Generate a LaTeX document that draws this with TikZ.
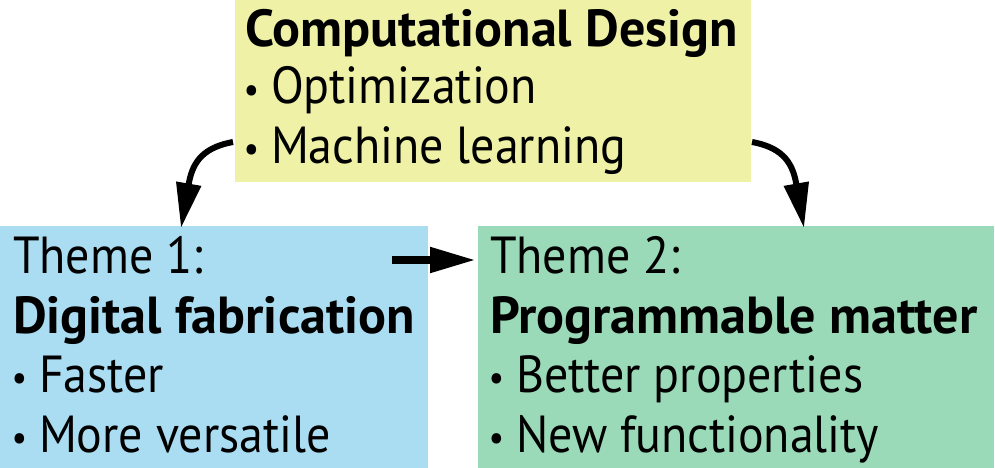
\documentclass[tikz,border=0pt]{standalone}
\usepackage{fontspec}
\setmainfont{PT Sans}
\newfontfamily\regfont[FakeStretch=0.92]{PT Sans}
\usetikzlibrary{arrows.meta}
\definecolor{cdyellow}{RGB}{239,242,166}
\definecolor{thblue}{RGB}{170,221,242}
\definecolor{thgreen}{RGB}{154,218,184}
\newlength\mytw
\settowidth{\mytw}{\fontsize{10pt}{12pt}\selectfont\bfseries Digital fabrication}
\pgfmathsetmacro\myfs{10*402/\mytw}
\newcommand\bul{\makebox[26pt][l]{\hspace{-1.5pt}\raisebox{1.2pt}{\scalebox{0.72}{\textbullet}}}}
\begin{document}
\begin{tikzpicture}[x=1pt,y=-1pt,
  box/.style={draw=none, inner sep=0pt, outer sep=0pt, anchor=north west},
  txt/.style={anchor=base west, inner sep=0pt, outer sep=0pt, font=\fontsize{\myfs pt}{\myfs pt}\regfont},
  btxt/.style={anchor=base west, inner sep=0pt, outer sep=0pt, font=\fontsize{\myfs pt}{\myfs pt}\selectfont\bfseries},
  arr/.style={line width=6pt, -{Triangle[length=45pt,width=24pt]}},
  sarr/.style={line width=8pt, -{Triangle[length=46pt,width=24pt]}}]
\useasboundingbox (0,0) rectangle (995,468);
\node[box, fill=cdyellow, minimum width=516pt, minimum height=182pt] (cd) at (235,0) {};
\node[box, fill=thblue, minimum width=428pt, minimum height=242pt] (t1) at (0,226) {};
\node[box, fill=thgreen, minimum width=516pt, minimum height=242pt] (t2) at (478,226) {};
\node[btxt] (cda) at (245,47) {Computational Design};
\node[txt] (cdb) at (245,104) {\bul Optimization};
\node[txt] (cdc) at (245,163) {\bul Machine learning};
\node[txt] (t1a) at (13,273) {Theme 1:};
\node[btxt] (t1b) at (13,333) {Digital fabrication};
\node[txt] (t1c) at (13,392) {\bul Faster};
\node[txt] (t1d) at (13,452) {\bul More versatile};
\node[txt] (t2a) at (490,273) {Theme 2:};
\node[btxt] (t2b) at (490,333) {Programmable matter};
\node[txt] (t2c) at (490,392) {\bul Better properties};
\node[txt] (t2d) at (490,452) {\bul New functionality};
\coordinate (a1s) at (233,142);
\coordinate (a1e) at (181,228);
\coordinate (a2s) at (752,142);
\coordinate (a2e) at (804,228);
\coordinate (a3s) at (392,260);
\coordinate (a3e) at (476,260);
\draw[arr] (a1s) .. controls (200,148) and (192,165) .. (a1e);
\draw[arr] (a2s) .. controls (785,148) and (793,165) .. (a2e);
\draw[sarr] (a3s) -- (a3e);
\end{tikzpicture}
\end{document}
